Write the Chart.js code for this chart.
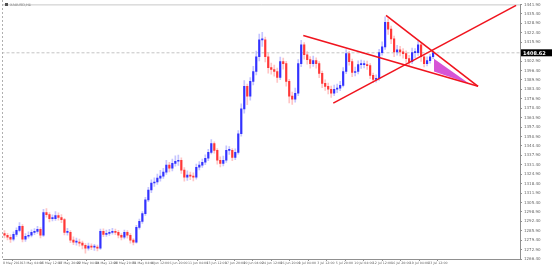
<!DOCTYPE html>
<html>
<head>
<meta charset="utf-8">
<script src="https://cdn.jsdelivr.net/npm/chart.js@4.4.1/dist/chart.umd.min.js"></script>
<style>
  html, body { margin: 0; padding: 0; background: #fff; }
  #wrap { width: 553px; height: 267px; }
</style>
</head>
<body>
<div id="wrap"><canvas id="chart" width="553" height="267"></canvas></div>
<script>
// Symbol / header
const symbolTitle = 'XAUUSD,H4';

// Candle data (one entry per bar)
const firstOpen = 1284.0;
const closes = [
  1282.8,1281.4,1280.0,1283.4,1286.1,1288.9,1280.0,1282.1,1282.8,1284.8,
  1285.5,1286.8,1282.8,1298.4,1297.0,1294.3,1294.3,1296.4,1295.0,1293.6,
  1284.8,1284.8,1279.4,1278.0,1278.0,1277.3,1275.9,1273.9,1275.3,1274.6,
  1274.6,1273.9,1285.5,1283.4,1284.1,1284.8,1285.5,1284.8,1282.8,1281.4,
  1284.8,1282.8,1279.4,1278.0,1288.2,1292.3,1297.7,1307.2,1314.0,1318.8,
  1319.5,1322.2,1323.6,1326.3,1331.1,1329.0,1332.4,1333.8,1334.5,1327.7,
  1322.9,1324.3,1323.6,1322.9,1329.7,1331.1,1333.1,1335.9,1339.9,1346.0,
  1341.3,1334.5,1332.4,1334.5,1341.3,1341.3,1336.5,1339.9,1352.8,1369.9,
  1385.5,1378.7,1388.9,1395.7,1405.9,1417.5,1417.5,1405.9,1398.4,1397.1,
  1395.7,1391.6,1402.5,1401.2,1388.9,1378.7,1376.7,1380.7,1401.2,1414.1,
  1407.3,1403.9,1401.2,1403.2,1401.2,1394.4,1387.5,1385.5,1383.5,1380.7,
  1383.5,1384.2,1386.2,1395.7,1408.0,1402.5,1395.0,1395.7,1400.5,1400.5,
  1400.5,1399.8,1393.0,1390.3,1391.0,1408.7,1412.7,1429.7,1425.0,1418.2,
  1409.3,1410.7,1409.3,1408.0,1404.6,1402.5,1408.7,1408.7,1414.1,1405.9,
  1401.2,1403.2,1405.9,1408.6
];
const highs = [
  1286.0,1284.1,1283.0,1285.2,1287.9,1291.5,1290.2,1284.0,1285.1,1286.5,
  1287.3,1289.0,1288.1,1300.6,1301.2,1298.5,1296.8,1299.1,1298.2,1297.0,
  1294.5,1287.6,1286.0,1281.7,1280.9,1280.1,1278.8,1277.0,1277.4,1276.9,
  1276.5,1276.0,1287.1,1287.2,1286.3,1286.9,1287.6,1287.0,1286.2,1284.0,
  1286.4,1286.0,1283.9,1280.5,1289.6,1294.0,1299.1,1308.9,1315.8,1321.0,
  1322.3,1325.0,1327.5,1329.0,1334.4,1333.0,1335.3,1337.6,1338.1,1336.2,
  1329.5,1327.2,1326.4,1325.8,1331.8,1333.6,1335.4,1338.2,1342.0,1348.7,
  1347.2,1342.6,1336.8,1337.3,1344.5,1344.0,1342.5,1342.3,1355.0,1373.5,
  1389.4,1387.0,1391.6,1399.3,1409.8,1421.6,1422.8,1419.4,1408.1,1401.5,
  1400.2,1398.0,1405.7,1405.0,1402.8,1390.4,1381.5,1384.2,1404.0,1417.3,
  1415.6,1409.5,1406.0,1406.4,1405.2,1402.6,1396.0,1389.9,1387.8,1385.6,
  1386.3,1387.0,1389.0,1398.4,1410.9,1409.6,1404.3,1398.8,1403.1,1403.6,
  1403.0,1402.9,1401.2,1394.7,1393.5,1411.0,1416.2,1433.5,1432.1,1427.0,
  1420.1,1413.8,1413.0,1411.6,1410.0,1406.8,1411.9,1411.5,1417.0,1415.5,
  1407.1,1405.8,1407.6,1409.9
];
const lows = [
  1280.9,1279.6,1277.8,1278.9,1282.0,1285.0,1278.1,1278.6,1280.7,1281.6,
  1283.2,1284.1,1281.0,1281.9,1295.3,1292.0,1292.6,1293.0,1293.1,1291.4,
  1283.0,1282.9,1277.6,1276.2,1276.0,1275.2,1273.4,1270.5,1272.5,1272.8,
  1272.4,1272.0,1273.0,1281.8,1282.0,1282.7,1283.5,1283.1,1280.9,1279.5,
  1280.2,1280.7,1277.3,1276.1,1277.4,1286.9,1291.0,1296.5,1305.9,1312.2,
  1316.4,1317.8,1320.1,1321.9,1324.8,1326.5,1327.2,1330.5,1331.0,1325.4,
  1320.0,1320.6,1321.1,1320.2,1321.5,1327.9,1329.6,1331.5,1334.3,1338.8,
  1339.4,1331.8,1329.9,1330.6,1333.0,1338.6,1334.2,1334.9,1338.7,1351.2,
  1367.0,1372.8,1376.0,1386.5,1393.4,1403.1,1413.0,1402.3,1394.6,1393.8,
  1392.5,1388.2,1390.0,1397.4,1385.6,1374.1,1373.0,1374.5,1379.1,1399.0,
  1404.2,1400.8,1398.1,1399.3,1398.0,1391.5,1384.6,1382.7,1380.2,1377.9,
  1379.0,1381.1,1382.5,1385.0,1394.3,1400.1,1392.2,1392.6,1394.0,1397.9,
  1398.2,1397.1,1390.8,1388.1,1388.4,1389.6,1406.9,1411.0,1421.3,1414.9,
  1406.0,1406.9,1406.5,1405.0,1401.9,1399.6,1401.1,1405.2,1406.8,1402.7,
  1398.9,1399.6,1401.4,1404.5
];
const currentPrice = 1408.62;

// Drawn objects (bar index, price)
const trendUpper = [{ x: 127.3, y: 1434.5 }, { x: 158, y: 1385.5 }];
const trendMiddle = [{ x: 99.7, y: 1420.5 }, { x: 158, y: 1385.5 }];
const trendRising = [{ x: 109.7, y: 1373.9 }, { x: 170.7, y: 1441.3 }];
const wedgeTop = [{ x: 143.3, y: 1404.6 }, { x: 155, y: 1387.5 }];
const wedgeBottom = [{ x: 143.3, y: 1395.7 }, { x: 155, y: 1387.5 }];

// Axis labels
const yTickValues = [
  1266.40,1272.90,1279.40,1285.90,1292.40,1298.90,1305.40,1311.90,1318.40,1324.90,
  1331.40,1337.90,1344.40,1350.90,1357.40,1363.90,1370.40,1376.90,1383.40,1389.90,
  1396.40,1402.90,1409.40,1415.90,1422.40,1428.90,1435.40,1441.90
];
const xTickLabels = [
  '8 May 2019','13 May 04:00','15 May 12:00','17 May 20:00','22 May 04:00','24 May 12:00',
  '28 May 20:00','31 May 04:00','4 Jun 12:00','6 Jun 20:00','11 Jun 04:00','13 Jun 12:00',
  '17 Jun 20:00','20 Jun 04:00','24 Jun 12:00','26 Jun 20:00','1 Jul 04:00','3 Jul 12:00',
  '5 Jul 20:00','10 Jul 04:00','12 Jul 12:00','16 Jul 20:00','19 Jul 04:00','23 Jul 12:00'
];

// Build candle parts
const opens = closes.map((c, i) => (i === 0 ? firstOpen : closes[i - 1]));
const isUp = closes.map((c, i) => c >= opens[i]);
const wickData = closes.map((c, i) => ({ x: i, y: [lows[i], highs[i]] }));
const bodyData = closes.map((c, i) => ({ x: i, y: [opens[i], c] }));

const BLUE = 'rgb(50,50,255)';
const RED = 'rgb(255,55,55)';
const BLUE_WICK = 'rgba(140,140,255,0.5)';
const RED_WICK = 'rgba(255,140,140,0.5)';
const LINE_RED = 'rgb(240,20,30)';

const decorations = {
  id: 'decorations',
  beforeDatasetsDraw(chart) {
    const { ctx, chartArea } = chart;
    ctx.save();
    ctx.strokeStyle = '#b0b0b0';
    ctx.lineWidth = 1;
    ctx.setLineDash([2, 2]);
    ctx.beginPath();
    ctx.moveTo(2.5, 0);
    ctx.lineTo(2.5, chartArea.bottom);
    ctx.stroke();
    ctx.setLineDash([]);
    ctx.strokeStyle = '#c8c8c8';
    ctx.beginPath();
    ctx.moveTo(chartArea.left, chartArea.top + 0.5);
    ctx.lineTo(chartArea.right, chartArea.top + 0.5);
    ctx.stroke();
    ctx.restore();
  },
  afterDraw(chart) {
    const { ctx, chartArea, scales } = chart;
    ctx.save();
    // header
    ctx.fillStyle = '#505050';
    ctx.fillRect(5, 3, 3, 3);
    ctx.font = '3.5px "DejaVu Sans"';
    ctx.fillStyle = '#808080';
    ctx.textBaseline = 'middle';
    ctx.fillText(symbolTitle, 10, 5);
    // current price box
    const y = scales.y.getPixelForValue(currentPrice);
    ctx.fillStyle = '#000';
    ctx.fillRect(chartArea.right + 1, y - 3.5, 31, 7);
    ctx.fillStyle = '#fff';
    ctx.font = 'bold 5px "DejaVu Sans"';
    ctx.fillText(currentPrice.toFixed(2), chartArea.right + 3, y + 0.5);
    ctx.restore();
  }
};

const ctx = document.getElementById('chart').getContext('2d');
new Chart(ctx, {
  type: 'bar',
  data: {
    datasets: [
      {
        type: 'line',
        data: [{ x: -1, y: currentPrice }, { x: 175, y: currentPrice }],
        borderColor: '#c4c4c4',
        borderWidth: 1,
        borderDash: [3, 2],
        pointRadius: 0,
        order: 6
      },
      {
        data: wickData,
        backgroundColor: isUp.map(u => (u ? BLUE_WICK : RED_WICK)),
        barThickness: 1,
        grouped: false,
        order: 5
      },
      {
        data: bodyData,
        backgroundColor: isUp.map(u => (u ? BLUE : RED)),
        barThickness: 1.5,
        minBarLength: 1,
        grouped: false,
        order: 4
      },
      {
        type: 'line',
        data: wedgeTop,
        borderColor: 'rgba(0,0,0,0)',
        borderWidth: 0,
        pointRadius: 0,
        order: 3
      },
      {
        type: 'line',
        data: wedgeBottom,
        borderColor: 'rgba(0,0,0,0)',
        borderWidth: 0,
        pointRadius: 0,
        fill: '-1',
        backgroundColor: 'rgb(214,84,214)',
        order: 3
      },
      {
        type: 'line',
        data: trendUpper,
        borderColor: LINE_RED,
        borderWidth: 1.6,
        pointRadius: 0,
        order: 1
      },
      {
        type: 'line',
        data: trendMiddle,
        borderColor: LINE_RED,
        borderWidth: 1.6,
        pointRadius: 0,
        order: 1
      },
      {
        type: 'line',
        data: trendRising,
        borderColor: LINE_RED,
        borderWidth: 1.6,
        pointRadius: 0,
        order: 1
      }
    ]
  },
  options: {
    responsive: false,
    animation: false,
    devicePixelRatio: 1,
    layout: { padding: { left: 3, top: 1, right: 0, bottom: 0 } },
    plugins: {
      legend: { display: false },
      tooltip: { enabled: false }
    },
    scales: {
      x: {
        type: 'linear',
        offset: false,
        min: -0.5,
        max: 172,
        afterBuildTicks: s => { s.ticks = xTickLabels.map((l, k) => ({ value: -0.5 + k * 6.17 })); },
        afterFit: s => { s.height = 8; },
        grid: { display: true, drawOnChartArea: false, tickLength: 2, color: '#909090' },
        border: { display: true, color: '#909090' },
        ticks: {
          autoSkip: false,
          maxRotation: 0,
          align: 'start',
          padding: 0,
          color: '#666',
          font: { size: 3.2, family: 'DejaVu Sans' },
          callback: (v, i) => xTickLabels[i]
        }
      },
      y: {
        position: 'right',
        min: 1266.4,
        max: 1442.0,
        afterBuildTicks: s => { s.ticks = yTickValues.map(v => ({ value: v })); },
        afterFit: s => { s.width = 33; },
        grid: { display: true, drawOnChartArea: false, tickLength: 2, color: '#909090' },
        border: { display: true, color: '#909090' },
        ticks: {
          autoSkip: false,
          padding: 2,
          color: '#666',
          font: { size: 4, family: 'DejaVu Sans' },
          callback: v => Number(v).toFixed(2)
        }
      }
    }
  },
  plugins: [decorations]
});
</script>
</body>
</html>
